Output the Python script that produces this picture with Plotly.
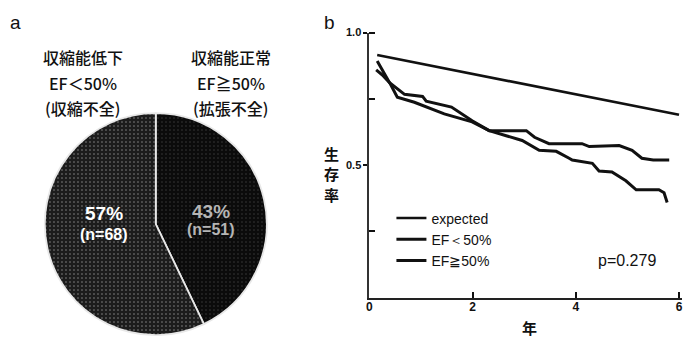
import plotly.graph_objects as go

# ---- panel a: EF groups ----
pie_groups = ["EF≧50%", "EF＜50%"]
pie_counts = [51, 68]
group_titles = [
    ["収縮能低下", "EF＜50%", "(収縮不全)"],
    ["収縮能正常", "EF≧50%", "(拡張不全)"],
]

# ---- panel b: survival curves ----
exp_years = [0.15, 6.0]
exp_surv = [0.915, 0.69]

ef_low_years = [0.15, 0.39, 0.68, 1.03, 1.10, 1.59, 1.99, 2.32, 3.04, 3.20, 3.48, 3.87,
                4.12, 4.26, 4.84, 5.09, 5.28, 5.50, 5.81]
ef_low_surv = [0.893, 0.811, 0.767, 0.759, 0.741, 0.719, 0.667, 0.630, 0.630, 0.605,
               0.581, 0.581, 0.581, 0.570, 0.574, 0.556, 0.526, 0.519, 0.519]

ef_high_years = [0.13, 0.25, 0.39, 0.54, 0.87, 1.20, 1.45, 1.99, 2.32, 2.65, 2.96, 3.29,
                 3.62, 3.87, 3.93, 4.32, 4.45, 4.70, 4.97, 5.17, 5.61, 5.71, 5.77]
ef_high_surv = [0.859, 0.840, 0.811, 0.756, 0.737, 0.711, 0.693, 0.663, 0.630, 0.611,
                0.593, 0.556, 0.552, 0.526, 0.519, 0.507, 0.478, 0.474, 0.441, 0.407,
                0.407, 0.396, 0.359]

p_value = "p=0.279"
x_ticks = [0, 2, 4, 6]
y_ticks = [0.5, 1.0]

W, H = 683, 339
FONT = "Liberation Sans, Arial, sans-serif"
JP = "Noto Sans CJK JP, sans-serif"

fig = go.Figure()


def note(px, py, text, size, color="#111", family=FONT, weight="normal"):
    """Place a text centred on a pixel position of the page."""
    fig.add_annotation(x=px / W, y=1 - py / H, xref="paper", yref="paper",
                       xanchor="center", yanchor="middle", text=text, showarrow=False,
                       font=dict(family=family, size=size, color=color, weight=weight))


# pie: starts at 12 o'clock, clockwise, EF>=50% on the right
cx, cy, d = 156, 222, 226
fig.add_trace(go.Pie(
    labels=pie_groups,
    values=pie_counts,
    sort=False,
    direction="clockwise",
    rotation=0,
    textinfo="none",
    hoverinfo="label+value+percent",
    showlegend=False,
    domain=dict(x=[(cx - d / 2) / W, (cx + d / 2) / W],
                y=[1 - (cy + d / 2) / H, 1 - (cy - d / 2) / H]),
    marker=dict(
        colors=["#0b0b0b", "#1e1e1e"],
        line=dict(color="#e8e8e8", width=1.8),
        pattern=dict(shape=[".", "."], fgcolor=["#3a3a3a", "#8a8a8a"],
                     bgcolor=["#0b0b0b", "#1c1c1c"], size=4, solidity=0.12),
    ),
))

total = sum(pie_counts)
pct = [round(100 * v / total) for v in pie_counts]
# slice labels (left slice = second group, right slice = first group)
slice_label_pos = {1: (104, 211, 233), 0: (211, 209, 228)}
for i, (lx, y1, y2) in slice_label_pos.items():
    col = "#ffffff" if i == 1 else "#b5b5b5"
    note(lx, y1, f"{pct[i]}%", 19, col, weight="bold")
    note(lx, y2, f"(n={pie_counts[i]})", 16, col, weight="bold")

# group headings above the pie
for hx, lines in zip([83, 231], group_titles):
    for k, line in enumerate(lines):
        note(hx, 52 + 26 * k, line, 16, "#111", JP, weight=500)

# survival curves
fig.add_trace(go.Scatter(x=exp_years, y=exp_surv, mode="lines", name="expected",
                         line=dict(color="#111", width=2.6)))
fig.add_trace(go.Scatter(x=ef_low_years, y=ef_low_surv, mode="lines", name="EF＜50%",
                         line=dict(color="#111", width=3)))
fig.add_trace(go.Scatter(x=ef_high_years, y=ef_high_surv, mode="lines", name="EF≧50%",
                         line=dict(color="#111", width=3)))
# empty trace so the label-only year axis is drawn
fig.add_trace(go.Scatter(x=[], y=[], xaxis="x2", yaxis="y", showlegend=False,
                         hoverinfo="skip"))

fig.add_annotation(x=4.99, y=0.14, xref="x", yref="y", xanchor="center",
                   yanchor="middle", text=p_value, showarrow=False,
                   font=dict(family=FONT, size=16, color="#111"))

# panel letters and axis titles
note(16, 17, "a", 19)
note(330, 17, "b", 19)
for k, ch in enumerate("生存率"):
    note(332, 150 + 21 * k, ch, 15, "#111", JP, weight="bold")
note(530, 327, "年", 15, "#111", JP, weight="bold")

PX_PER_YEAR = 51.67
X0_PX = 370
X_MAX = (W - X0_PX) / PX_PER_YEAR
LBL_LEFT = -0.3  # a little room so the edge labels are not dropped

fig.update_layout(
    width=W, height=H,
    margin=dict(l=0, r=0, t=0, b=0),
    paper_bgcolor="white", plot_bgcolor="rgba(0,0,0,0)",
    xaxis=dict(domain=[X0_PX / W, 1.0], range=[0, X_MAX], tickvals=x_ticks,
               showticklabels=False,
               ticks="inside", ticklen=6, tickwidth=2, tickcolor="#111",
               showline=True, linecolor="#222", linewidth=2, showgrid=False,
               zeroline=False, anchor="y"),
    xaxis2=dict(domain=[(X0_PX + LBL_LEFT * PX_PER_YEAR) / W, 1.0],
                range=[LBL_LEFT, X_MAX], tickvals=x_ticks,
                ticktext=[f"<b>{t}</b>" for t in x_ticks], ticklabeloverflow="allow",
                ticks="", showline=False, showgrid=False, zeroline=False,
                tickfont=dict(family=FONT, size=12, color="#111"), anchor="y"),
    yaxis=dict(domain=[42 / H, 312 / H], range=[0, 1.0], tickvals=y_ticks,
               ticktext=["<b>0.5</b>", "<b>1.0</b>"],
               ticks="outside", ticklen=4, tickwidth=2, tickcolor="#111",
               minor=dict(tickvals=[0.25, 0.75, 1.0], ticks="inside", ticklen=6,
                          tickwidth=2, tickcolor="#111"),
               showline=True, linecolor="#333", linewidth=2, showgrid=False,
               zeroline=False, tickfont=dict(family=FONT, size=11, color="#111"),
               anchor="x"),
    legend=dict(x=392 / W, y=1 - 200 / H, xanchor="left", yanchor="top",
                bgcolor="rgba(0,0,0,0)", font=dict(family=FONT, size=14, color="#111"),
                itemwidth=30, tracegroupgap=0),
)

fig.write_html("out.html")
